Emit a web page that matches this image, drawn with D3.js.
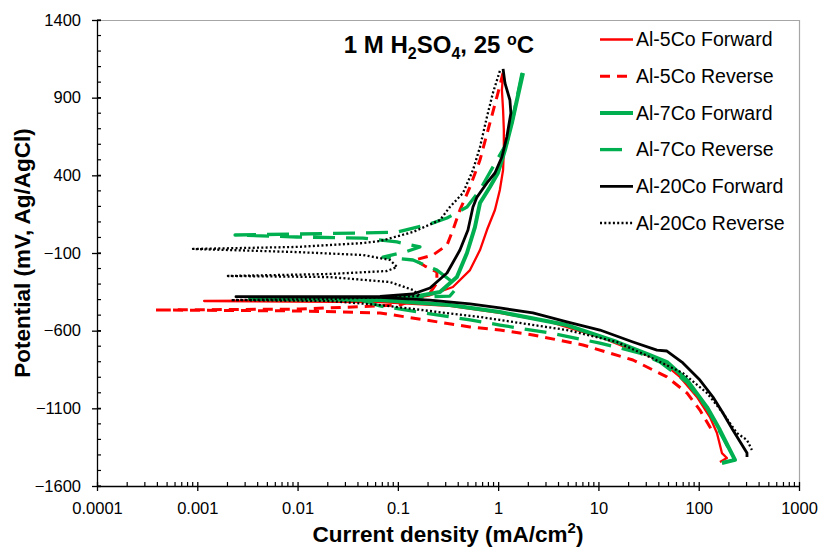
<!DOCTYPE html>
<html>
	<head>
		<meta charset="utf-8">
		<style type="text/css">
			body { margin: 0; background: #fff; font-family: "Liberation Sans", Arial, sans-serif; }
			.axis text { font-size: 16.5px; fill: #000; font-family: "Liberation Sans", Arial, sans-serif; }
			.axis path, .axis line { stroke: #000; stroke-width: 1.3; }
			.series { fill: none; stroke-linejoin: round; }
		</style>
		<title>Polarization</title>
	</head>
	<body>
		<script src="https://cdn.jsdelivr.net/npm/d3@7"></script>
		<script>
		// current density (mA/cm2), potential (mV)
		var al5Forward = [[162.7,-1445],[191,-1420],[170.4,-1388],[152,-1259],[129.4,-1156],[96,-1027],[65,-898],[41,-789],[22.1,-725],[10.35,-641],[3.28,-544],[1.04,-486],[0.33,-441],[0.0664,-416],[0.00117,-409],[0.0106,-406],[0.1416,-392],[0.209,-372],[0.354,-319],[0.524,-210],[0.659,-81],[0.773,48],[0.929,177],[1.04,306],[1.12,434],[1.14,563],[1.14,692],[1.12,821],[1.09,949],[1.12,1055]];
		var al5Reverse = [[1.12,1059],[0.995,930],[0.828,737],[0.659,499],[0.524,325],[0.416,177],[0.354,48],[0.309,-49],[0.224,-113],[0.148,-145],[0.186,-184],[0.245,-222],[0.245,-293],[0.209,-357],[0.105,-435],[0.0106,-461],[0.000378,-467],[0.0106,-473],[0.0664,-486],[0.524,-576],[1.04,-596],[2.22,-628],[7.0,-692],[22.1,-789],[48.2,-898],[76.3,-1001],[102.8,-1111],[129.4,-1220],[135.5,-1240]];
		var al7Forward = [[170.4,-1452],[230,-1432],[204.6,-1368],[162.7,-1240],[120.8,-1092],[76.3,-918],[48.2,-802],[32.6,-757],[15.3,-673],[4.85,-564],[1.04,-480],[0.33,-435],[0.0664,-403],[0.00335,-396],[0.0664,-390],[0.1416,-383],[0.263,-351],[0.388,-255],[0.489,-100],[0.587,67],[0.659,222],[0.828,325],[0.995,415],[1.17,563],[1.37,737],[1.54,885],[1.77,1059]];
		var al7Reverse = [[1.73,1059],[1.41,776],[1.22,608],[0.973,499],[0.659,306],[0.489,196],[0.309,125],[0.209,87],[0.098,35],[0.0449,29],[0.0099,22],[0.00238,16],[0.0099,3],[0.0449,-4],[0.098,-29],[0.166,-61],[0.118,-94],[0.071,-126],[0.1416,-145],[0.245,-210],[0.33,-274],[0.371,-338],[0.33,-377],[0.105,-390],[0.0419,-403],[0.0664,-441],[0.524,-531],[1.04,-564],[3.28,-615],[10.35,-680],[25.9,-744],[41,-802],[76.3,-931],[120.8,-1098],[162.7,-1252],[195.4,-1349]];
		var al20Forward = [[303,-1413],[303,-1388],[219,-1240],[174.4,-1130],[138.7,-1027],[102.8,-918],[69.6,-808],[48.2,-731],[38.3,-725],[22.1,-673],[10.35,-596],[4.85,-544],[2.22,-486],[1.04,-454],[0.524,-428],[0.209,-403],[0.0664,-386],[0.00243,-381],[0.0664,-380],[0.1416,-364],[0.209,-325],[0.309,-229],[0.416,-81],[0.5,48],[0.561,196],[0.615,260],[0.773,351],[0.929,415],[1.09,518],[1.22,647],[1.34,801],[1.31,885],[1.17,994],[1.12,1085]];
		var al20Reverse = [[1.04,1072],[0.887,930],[0.773,776],[0.659,582],[0.561,434],[0.446,286],[0.33,196],[0.263,112],[0.1416,35],[0.0664,-23],[0.0449,-36],[0.0099,-61],[0.000906,-74],[0.0099,-94],[0.0449,-113],[0.0834,-145],[0.098,-190],[0.0778,-216],[0.021,-235],[0.00202,-248],[0.021,-255],[0.0834,-287],[0.1416,-338],[0.166,-377],[0.021,-396],[0.00217,-403],[0.021,-409],[0.0664,-435],[0.659,-512],[1.04,-531],[4.85,-596],[15.3,-673],[32.6,-770],[69.6,-873],[120.8,-1001],[174.4,-1130],[240,-1259],[303,-1304],[339,-1368]];

		var seriesNames = ["Al-5Co Forward","Al-5Co Reverse","Al-7Co Forward","Al-7Co Reverse","Al-20Co Forward","Al-20Co Reverse"];
		var seriesData = [al5Forward, al5Reverse, al7Forward, al7Reverse, al20Forward, al20Reverse];

		var xTicks = [0.0001,0.001,0.01,0.1,1,10,100,1000];
		var xTickLabels = ["0.0001","0.001","0.01","0.1","1","10","100","1000"];
		var yTicks = [-1600,-1100,-600,-100,400,900,1400];

		// line styles per series
		var styles = [
			{color:"#ff0000", width:2.3, dash:null},
			{color:"#ff0000", width:3, dash:"10,7"},
			{color:"#00b050", width:4, dash:null},
			{color:"#00b050", width:3.3, dash:"22,11"},
			{color:"#000000", width:2.8, dash:null},
			{color:"#000000", width:2.3, dash:"2,2.3"}
		];

		var margin = {top:20, right:22, bottom:61, left:97};
		var width = 821 - margin.left - margin.right;
		var height = 547 - margin.top - margin.bottom;

		var x = d3.scaleLog().domain([1e-4,1e3]).range([0,width]);
		var y = d3.scaleLinear().domain([-1600,1400]).range([height,0]);

		var root = d3.select("body").append("svg")
			.attr("width",821)
			.attr("height",547);
		var svg = root.append("g")
			.attr("transform","translate("+margin.left+","+margin.top+")");

		svg.append("clipPath").attr("id","clip")
			.append("rect").attr("width",width).attr("height",height);

		// light frame top and right
		svg.append("path")
			.attr("d","M0,0.5H"+(width+0.5)+"V"+height)
			.attr("fill","none")
			.attr("stroke","#a6a6a6")
			.attr("stroke-width",1.2);

		// minor ticks (inside)
		var minorX = [];
		for (var e = -4; e < 3; e++) {
			for (var m = 2; m <= 9; m++) minorX.push(m*Math.pow(10,e));
		}
		svg.append("g").selectAll("line").data(minorX).enter().append("line")
			.attr("x1",function(d){return x(d);}).attr("x2",function(d){return x(d);})
			.attr("y1",height).attr("y2",height-4)
			.attr("stroke","#000").attr("stroke-width",1.2);
		svg.append("g").selectAll("line").data(d3.range(-1600,1401,100)).enter().append("line")
			.attr("y1",function(d){return y(d);}).attr("y2",function(d){return y(d);})
			.attr("x1",0).attr("x2",4)
			.attr("stroke","#000").attr("stroke-width",1.2);

		var xAxis = d3.axisBottom(x).tickValues(xTicks)
			.tickFormat(function(d,i){return xTickLabels[i];})
			.tickSize(5).tickSizeOuter(0).tickPadding(11);
		var yAxis = d3.axisLeft(y).tickValues(yTicks)
			.tickFormat(d3.format("d"))
			.tickSize(5).tickSizeOuter(0).tickPadding(11);

		var gx = svg.append("g").attr("class","axis")
			.attr("transform","translate(0,"+height+")")
			.call(xAxis);
		gx.selectAll(".tick line").attr("y1",-4);
		var gy = svg.append("g").attr("class","axis")
			.call(yAxis);
		gy.selectAll(".tick line").attr("x1",4);

		var line = d3.line()
			.x(function(d){return x(d[0]);})
			.y(function(d){return y(d[1]);});

		var plot = svg.append("g").attr("clip-path","url(#clip)");
		seriesData.forEach(function(data,i){
			plot.append("path")
				.datum(data)
				.attr("class","series")
				.attr("d",line)
				.attr("stroke",styles[i].color)
				.attr("stroke-width",styles[i].width)
				.attr("stroke-dasharray",styles[i].dash);
		});

		// title
		var title = root.append("text")
			.attr("x",439).attr("y",53)
			.attr("text-anchor","middle")
			.style("font-size","24px").style("font-weight","bold");
		title.append("tspan").text("1 M H");
		title.append("tspan").attr("dy",6).style("font-size","16px").text("2");
		title.append("tspan").attr("dy",-6).text("SO");
		title.append("tspan").attr("dy",6).style("font-size","16px").text("4");
		title.append("tspan").attr("dy",-6).text(", 25 ");
		title.append("tspan").attr("dy",-8).style("font-size","16px").text("o");
		title.append("tspan").attr("dy",8).text("C");

		// legend
		var legend = root.append("g");
		seriesNames.forEach(function(name,i){
			var ly = 39.5 + i*36.7;
			legend.append("line")
				.attr("x1",600).attr("x2",633)
				.attr("y1",ly).attr("y2",ly)
				.attr("stroke",styles[i].color)
				.attr("stroke-width",styles[i].width)
				.attr("stroke-dasharray",styles[i].dash);
			legend.append("text")
				.attr("x",636).attr("y",ly)
				.attr("dy","0.35em")
				.style("font-size","19.5px")
				.text(name);
		});

		// axis titles
		var xt = root.append("text")
			.attr("x",448).attr("y",542)
			.attr("text-anchor","middle")
			.style("font-size","22.5px").style("font-weight","bold");
		xt.append("tspan").text("Current density (mA/cm");
		xt.append("tspan").attr("dy",-9).style("font-size","15px").text("2");
		xt.append("tspan").attr("dy",9).text(")");

		root.append("text")
			.attr("transform","translate(30,253) rotate(-90)")
			.attr("text-anchor","middle")
			.style("font-size","22.5px").style("font-weight","bold")
			.text("Potential (mV, Ag/AgCl)");
		</script>
	</body>
</html>
